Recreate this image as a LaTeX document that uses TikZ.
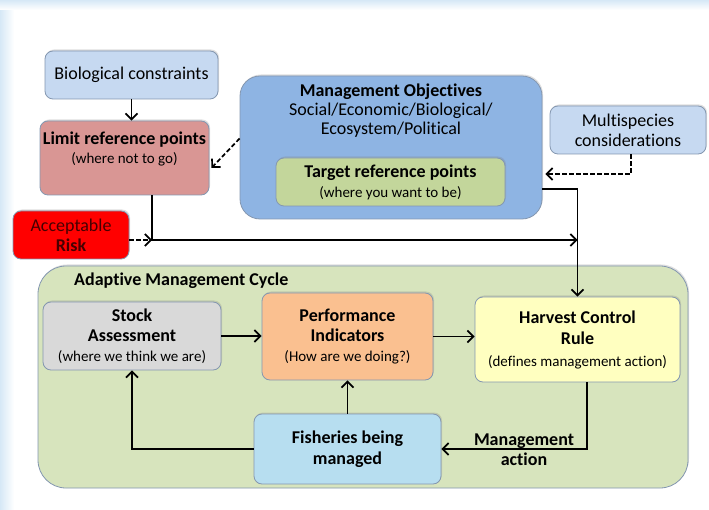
\documentclass[tikz,border=0pt]{standalone}
\usepackage{fontspec}
\setmainfont{Carlito}[Ligatures={NoCommon}]
\usetikzlibrary{arrows.meta,shadows,calc}

\definecolor{bgblue}{RGB}{214,232,246}
\definecolor{boxline}{RGB}{132,151,176}
\definecolor{bioblue}{RGB}{198,217,241}
\definecolor{limitred}{RGB}{217,150,148}
\definecolor{riskred}{RGB}{255,0,0}
\definecolor{risktext}{RGB}{70,0,0}
\definecolor{moblue}{RGB}{142,180,227}
\definecolor{targetgreen}{RGB}{195,214,155}
\definecolor{cyclegreen}{RGB}{215,228,189}
\definecolor{stockgray}{RGB}{217,217,217}
\definecolor{perforange}{RGB}{250,192,144}
\definecolor{hcryellow}{RGB}{255,255,192}
\definecolor{fishblue}{RGB}{183,222,240}

\newcommand\subsize{\fontsize{15}{18}\selectfont}

\tikzset{
  box/.style={draw=boxline, line width=0.8pt, rounded corners=8pt, inner sep=0pt,
    drop shadow={opacity=0.25, shadow xshift=1pt, shadow yshift=1.5pt}},
  txt/.style={align=center, inner sep=0pt, font=\fontsize{18}{19}\selectfont},
  arr/.style={line width=1.7pt, -{Straight Barb[length=6pt,width=12pt]}},
  dsh/.style={arr, dashed, dash pattern=on 4.5pt off 2.5pt}
}

\begin{document}
\begin{tikzpicture}[x=1pt,y=1pt,yscale=-1]
\useasboundingbox (0,0) rectangle (709,510);
% background
\fill[white] (0,0) rectangle (709,510);
\shade[left color=bgblue, right color=white] (0,0) rectangle (14,510);
\shade[top color=bgblue, bottom color=white] (0,0) rectangle (709,10);

% top row
\node[box, fill=bioblue, minimum width=173pt, minimum height=48pt, txt] (bio) at (131.5,75) {Biological constraints};
\node[box, fill=limitred, minimum width=169pt, minimum height=74pt] (limit) at (124.5,158) {};
\node[txt] (limittxt) at (124.5,148.5) {\bfseries Limit reference points\\{\subsize\mdseries(where not to go)}};
\node[box, fill=riskred, minimum width=116pt, minimum height=48pt, txt, font=\fontsize{18}{20}\selectfont, text=risktext] (risk) at (71,235) {Acceptable\\\bfseries Risk};

\node[box, fill=moblue, rounded corners=20pt, minimum width=302pt, minimum height=143pt] (mo) at (391,147.5) {};
\node[txt] (motxt) at (391,110.5) {\bfseries Management Objectives\\Social/Economic/Biological/\\Ecosystem/Political};
\node[box, fill=targetgreen, minimum width=229pt, minimum height=48pt, txt, font=\fontsize{18}{20}\selectfont] (target) at (390.5,182) {\bfseries Target reference points\\{\subsize\mdseries(where you want to be)}};
\node[box, fill=bioblue, minimum width=156pt, minimum height=48pt, txt, font=\fontsize{18}{20}\selectfont] (multi) at (628,130) {Multispecies\\considerations};

% adaptive management cycle
\node[box, fill=cyclegreen, rounded corners=28pt, minimum width=650pt, minimum height=222pt] (cycle) at (363,377) {};
\node[txt, anchor=west] (cyclelbl) at (74,281) {\bfseries Adaptive Management Cycle};
\node[box, fill=stockgray, minimum width=178pt, minimum height=68pt, txt, font=\fontsize{18}{20}\selectfont] (stock) at (132,336) {\bfseries Stock\\\bfseries Assessment\\{\subsize(where we think we are)}};
\node[box, fill=perforange, minimum width=171pt, minimum height=87pt, txt, font=\fontsize{18}{20}\selectfont] (perf) at (347.5,336.5) {\bfseries Performance\\\bfseries Indicators\\{\subsize(How are we doing?)}};
\node[box, fill=hcryellow, minimum width=205pt, minimum height=85pt, txt, font=\fontsize{18}{21.5}\selectfont] (hcr) at (577.5,339.5) {\bfseries Harvest Control\\\bfseries Rule\\{\subsize(defines management action)}};
\node[box, fill=fishblue, minimum width=187pt, minimum height=70pt, txt, font=\fontsize{18}{21}\selectfont\bfseries] (fish) at (347.5,449) {Fisheries being\\managed};
\node[txt, font=\fontsize{18}{20}\selectfont\bfseries] (actlbl) at (524,450) {Management\\action};

% connectors
\coordinate (merge) at (152,240);
\draw[arr] (bio.south) -- (bio.south |- limit.north);
\draw[dsh] ($(mo.west)+(0,-9)$) -- ($(limit.east)+(2,10)$);
\draw[dsh] ($(multi.south)+(3,0)$) |- ($(mo.east)+(3,26.5)$);
\draw[arr] (limit.south -| merge) |- (hcr.north |- merge);
\draw[dsh] (risk.east |- merge) -- (merge);
\draw[arr] ($(mo.east)+(0,41.5)$) -| (hcr.north);
\draw[arr] (stock.east) -- (stock.east -| perf.west);
\draw[arr] (perf.east) -- (perf.east -| hcr.west);
\draw[arr] ($(hcr.south)+(9.5,0)$) |- (fish.east);
\draw[arr] (fish.west) -| (stock.south);
\draw[arr] (fish.north) -- (perf.south);
\end{tikzpicture}
\end{document}
